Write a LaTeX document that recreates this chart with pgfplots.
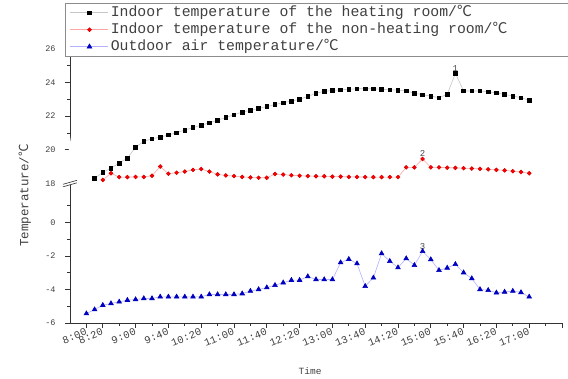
\documentclass[border=0pt]{standalone}
\usepackage{fontspec}
\setmainfont{Liberation Serif}
\setmonofont{Liberation Mono}
\newfontfamily\cjk{Noto Sans CJK SC}
\usepackage{pgfplots}
\usepackage{pgfplotstable}
\pgfplotsset{compat=1.18}
\newcommand\degC{{\cjk ℃}}

% index i: 0 = 8:00, step 10 min, 54 = 17:00
\pgfplotstableread{
i T
1 18.30
2 18.65
3 18.90
4 19.20
5 19.50
6 20.15
7 20.50
8 20.65
9 20.75
10 20.88
11 21.02
12 21.17
13 21.32
14 21.46
15 21.60
16 21.76
17 21.92
18 22.08
19 22.24
20 22.35
21 22.46
22 22.57
23 22.69
24 22.80
25 22.90
26 23.00
27 23.18
28 23.37
29 23.47
30 23.53
31 23.57
32 23.60
33 23.63
34 23.63
35 23.63
36 23.60
37 23.57
38 23.55
39 23.50
40 23.37
41 23.27
42 23.20
43 23.10
44 23.30
45 24.55
46 23.50
47 23.50
48 23.50
49 23.45
50 23.38
51 23.30
52 23.20
53 23.10
54 22.95
}\heating

\pgfplotstableread{
i T
2 18.20
3 18.60
4 18.37
5 18.37
6 18.38
7 18.38
8 18.45
9 19.00
10 18.57
11 18.63
12 18.70
13 18.80
14 18.85
15 18.70
16 18.53
17 18.47
18 18.43
19 18.38
20 18.35
21 18.33
22 18.33
23 18.55
24 18.52
25 18.48
26 18.45
27 18.43
28 18.42
29 18.42
30 18.40
31 18.40
32 18.38
33 18.38
34 18.37
35 18.37
36 18.37
37 18.37
38 18.37
39 18.95
40 18.95
41 19.45
42 18.95
43 18.95
44 18.93
45 18.92
46 18.90
47 18.88
48 18.86
49 18.83
50 18.80
51 18.77
52 18.72
53 18.67
54 18.60
}\nonheating

\pgfplotstableread{
i T
0 -5.44
1 -5.20
2 -4.94
3 -4.84
4 -4.74
5 -4.64
6 -4.60
7 -4.54
8 -4.54
9 -4.44
10 -4.44
11 -4.44
12 -4.44
13 -4.44
14 -4.44
15 -4.30
16 -4.30
17 -4.30
18 -4.30
19 -4.25
20 -4.10
21 -4.00
22 -3.89
23 -3.75
24 -3.60
25 -3.45
26 -3.45
27 -3.23
28 -3.41
29 -3.41
30 -3.41
31 -2.40
32 -2.20
33 -2.46
34 -3.81
35 -3.31
36 -1.86
37 -2.32
38 -2.70
39 -2.16
40 -2.56
41 -1.73
42 -2.22
43 -2.86
44 -2.72
45 -2.50
46 -3.00
47 -3.35
48 -4.00
49 -4.05
50 -4.20
51 -4.15
52 -4.10
53 -4.18
54 -4.44
}\outdoor

\begin{document}
\begin{tikzpicture}
\useasboundingbox (-70pt,-56pt) rectangle (498pt,323pt);
\begin{axis}[
  at={(0,0)}, anchor=south west,
  scale only axis, width=492pt, height=319pt,
  xmin=-2, xmax=58, ymin=-6, ymax=13,
  axis x line*=bottom, axis y line*=left,
  axis line style={black!80, line width=0.6pt},
  clip=false,
  xtick={0,2,6,10,14,18,22,26,30,34,38,42,46,50,54,58},
  xticklabels={8:00,8:20,9:00,9:40,10:20,11:00,11:40,12:20,13:00,13:40,14:20,15:00,15:40,16:20,17:00,{}},
  minor xtick={4,8,12,16,20,24,28,32,36,40,44,48,52,56},
  ytick={-6,-4,-2,0,2.32,4.32,6.32,8.32,10.32},
  yticklabels={-6,-4,-2,0,18,20,22,24,26},
  minor ytick={-5,-3,-1,1,3.32,5.32,7.32,9.32},
  tick align=outside,
  major tick length=5pt, minor tick length=3pt,
  every tick/.style={black!80, line width=0.6pt},
  xticklabel style={font=\ttfamily\fontsize{10.5}{12}\selectfont, text=black!75, rotate=22, anchor=east, yshift=-3pt, xshift=2pt},
  yticklabel style={font=\ttfamily\fontsize{8.5}{10}\selectfont, text=black!75, xshift=-6pt},
  xlabel={Time},
  xlabel style={font=\ttfamily\fontsize{9.5}{11}\selectfont, text=black!75, at={(axis description cs:0.488,-0.152)}, anchor=center},
  ylabel={Temperature/\degC},
  ylabel style={font=\ttfamily\fontsize{12.5}{14}\selectfont, text=black!75, at={(axis description cs:-0.0915,0.4)}, anchor=center},
  legend image code/.code={\draw[mark repeat=2,mark phase=2,#1] plot coordinates {(0pt,0pt) (19pt,0pt) (38pt,0pt)};},
  legend style={at={(-0.0102,1.0031)}, anchor=north west, draw=black!45, fill=white,
     font=\ttfamily\fontsize{14.8}{17}\selectfont, text=black!75,
     inner xsep=5pt, inner ysep=1pt, row sep=0pt,
     nodes={text height=10.5pt, text depth=3.5pt, inner ysep=1.5pt, inner xsep=2pt}},
  legend cell align=left,
]
\addplot[gray!45, line width=0.6pt, mark=square*, mark size=1.8pt, mark options={draw=black, fill=black}]
  table[x=i, y expr=\thisrow{T}-15.68]{\heating};
\addlegendentry{\makebox[455pt][l]{Indoor temperature of the heating room/\degC}}
\addplot[red!35, line width=0.6pt, mark=*, mark size=1.9pt, mark options={draw=red!85!black, fill=red}]
  table[x=i, y expr=\thisrow{T}-15.68]{\nonheating};
\addlegendentry{\makebox[455pt][l]{Indoor temperature of the non-heating room/\degC}}
\addplot[blue!30, line width=0.6pt, mark=triangle*, mark size=2.7pt, mark options={draw=blue!75!black, fill=blue!75!black}]
  table[x=i, y=T]{\outdoor};
\addlegendentry{\makebox[455pt][l]{Outdoor air temperature/\degC}}
% axis break
\fill[white] (axis cs:-2,2.32) ++(-7pt,-3.5pt) -- ++(14pt,4pt) -- ++(0,2.5pt) -- ++(-14pt,-4pt) -- cycle;
\draw[black!80, line width=0.6pt] (axis cs:-2,2.32) ++(-7pt,-3.5pt) -- ++(14pt,4pt);
\draw[black!80, line width=0.6pt] (axis cs:-2,2.32) ++(-7pt,-1pt) -- ++(14pt,4pt);
% annotations
\node[font=\ttfamily\fontsize{9}{10}\selectfont, text=black!70, anchor=south, inner sep=2pt] at (axis cs:45,8.87) {1};
\node[font=\ttfamily\fontsize{9}{10}\selectfont, text=black!70, anchor=south, inner sep=2pt] at (axis cs:41,3.77) {2};
\node[font=\ttfamily\fontsize{9}{10}\selectfont, text=black!70, anchor=south, inner sep=2pt] at (axis cs:41,-1.73) {3};
\end{axis}
\end{tikzpicture}
\end{document}
